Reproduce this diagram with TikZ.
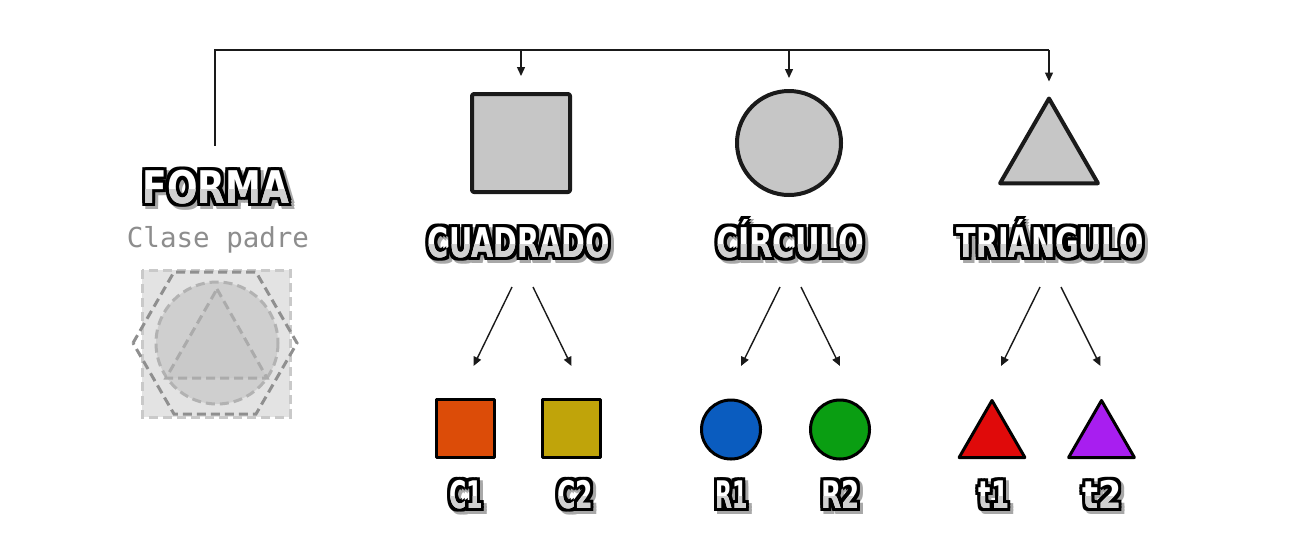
\documentclass[tikz,border=0pt]{standalone}
\usepackage{fontspec}
\usepackage{graphicx}
\usetikzlibrary{arrows.meta,shapes.geometric,calc}
\newfontfamily\pxfont{DejaVu Sans}
\newfontfamily\mymono{DejaVu Sans Mono}
\definecolor{shapegray}{HTML}{C6C6C6}
\definecolor{ink}{HTML}{1A1A1A}
\definecolor{pxshadow}{HTML}{A8A8A8}
\definecolor{pxlow}{HTML}{D0D0D0}
\definecolor{subgray}{HTML}{8D8D8D}
\definecolor{cOne}{HTML}{DC4C08}
\definecolor{cTwo}{HTML}{C0A40A}
\definecolor{rOne}{HTML}{0A5CBF}
\definecolor{rTwo}{HTML}{0A9E12}
\definecolor{tOne}{HTML}{E00A0A}
\definecolor{tTwo}{HTML}{A81EF0}
\tikzset{
  pxtxt/.style={inner sep=0pt, outer sep=0pt, anchor=base, font=\pxfont\bfseries},
  bigshape/.style={draw=ink, fill=shapegray, line width=4pt, line join=round, inner sep=0pt},
  kidshape/.style={draw=black, line width=3pt, line join=round, inner sep=0pt},
  conn/.style={draw=ink, line width=1.4pt},
  arr/.style={conn, -{Triangle[length=9pt,width=8pt]}},
  icondash/.style={line width=3pt, dash pattern=on 9pt off 5pt},
}
% #1 name, #2 position, #3 font size, #4 xscale, #5 text
\newcommand{\pxlabel}[5]{%
  \begin{scope}[xshift=3pt,yshift=-3pt]
    \foreach \dx/\dy in {-3pt/-3pt,-3pt/0pt,-3pt/3pt,0pt/-3pt,0pt/3pt,3pt/-3pt,3pt/0pt,3pt/3pt,0pt/0pt}{%
      \node[pxtxt, text=pxshadow, xshift=\dx, yshift=\dy] at (#2) {\fontsize{#3}{#3}\selectfont\scalebox{#4}[1]{#5}};}
  \end{scope}
  \foreach \dx/\dy in {-3pt/-3pt,-3pt/0pt,-3pt/3pt,0pt/-3pt,0pt/3pt,3pt/-3pt,3pt/0pt,3pt/3pt}{%
    \node[pxtxt, text=black, xshift=\dx, yshift=\dy] at (#2) {\fontsize{#3}{#3}\selectfont\scalebox{#4}[1]{#5}};}
  \node[pxtxt, text=white] (#1) at (#2) {\fontsize{#3}{#3}\selectfont\scalebox{#4}[1]{#5}};
  \begin{scope}
    \clip ([xshift=-3pt,yshift=-2pt]#1.base west) rectangle ([xshift=3pt,yshift=0.3*#3pt]#1.base east);
    \node[pxtxt, text=pxlow] at (#2) {\fontsize{#3}{#3}\selectfont\scalebox{#4}[1]{#5}};
  \end{scope}
}
\begin{document}
\begin{tikzpicture}[x=1pt,y=-1pt]
\useasboundingbox (0,0) rectangle (1289,547);
\fill[white] (0,0) rectangle (1289,547);

% parent icon (FORMA)
\filldraw[icondash, fill=black!11, draw=black!21] (142,270) rectangle (290,417);
\draw[icondash, draw=black!44] (133,343) -- (174,272) -- (256,272) -- (297,343) -- (256,414) -- (174,414) -- cycle;
\filldraw[icondash, fill=black!19, draw=black!30] (217,343) circle[radius=61];
\filldraw[icondash, fill=black!21, draw=black!33] (217,289) -- (267,378) -- (166,378) -- cycle;

% labels
\pxlabel{lforma}{216,203}{45}{0.8}{FORMA}
\node[anchor=base, inner sep=0pt, text=subgray, font=\mymono\fontsize{27.5}{30}\selectfont] (clase) at (218,247) {Clase padre};
\pxlabel{lcuad}{519,257}{41}{0.7}{CUADRADO}
\pxlabel{lcirc}{790,257}{41}{0.74}{CÍRCULO}
\pxlabel{ltri}{1050,257}{41}{0.7}{TRIÁNGULO}
\pxlabel{lc1}{466,508}{38}{0.62}{C1}
\pxlabel{lc2}{575,508}{38}{0.66}{C2}
\pxlabel{lr1}{732,508}{38}{0.58}{R1}
\pxlabel{lr2}{841,508}{38}{0.69}{R2}
\pxlabel{lt1}{994,508}{38}{0.68}{t1}
\pxlabel{lt2}{1102,508}{38}{0.88}{t2}

% main shapes
\node[bigshape, rectangle, rounded corners=2pt, minimum size=98pt] (sq) at (521,143) {};
\node[bigshape, circle, minimum size=104pt] (ci) at (789,143) {};
\node[bigshape, regular polygon, regular polygon sides=3, minimum size=113pt] (tr) at (1049,155) {};

% child shapes
\node[kidshape, rectangle, fill=cOne, minimum size=58pt] (c1) at (465.5,428) {};
\node[kidshape, rectangle, fill=cTwo, minimum size=58pt] (c2) at (571.5,428) {};
\node[kidshape, circle, fill=rOne, minimum size=59pt] (r1) at (731,429.5) {};
\node[kidshape, circle, fill=rTwo, minimum size=59pt] (r2) at (840,429.5) {};
\node[kidshape, regular polygon, regular polygon sides=3, fill=tOne, minimum size=76pt] (t1) at (992,438.5) {};
\node[kidshape, regular polygon, regular polygon sides=3, fill=tTwo, minimum size=76pt] (t2) at (1101.5,438.5) {};

% bus from parent
\coordinate (bus) at (215,50);
\draw[conn] ($(lforma.north)+(-1,-24)$) |- (tr.corner 1 |- bus);
\draw[arr] (sq.north |- bus) -- ($(sq.north)+(0,-16)$);
\draw[arr] (ci.north |- bus) -- ($(ci.north)+(0,-11)$);
\draw[arr] (tr.corner 1 |- bus) -- ($(tr.corner 1)+(0,-13)$);

% child arrows
\coordinate (ra) at (0,287);
\coordinate (rb) at (0,366);
\draw[arr] ($(sq.center |- ra)+(-9,0)$) -- ($(c1.center |- rb)+(8,0)$);
\draw[arr] ($(sq.center |- ra)+(12,0)$) -- (c2.center |- rb);
\draw[arr] ($(ci.center |- ra)+(-9,0)$) -- ($(r1.center |- rb)+(10,0)$);
\draw[arr] ($(ci.center |- ra)+(12,0)$) -- (r2.center |- rb);
\draw[arr] ($(tr.center |- ra)+(-9,0)$) -- ($(t1.center |- rb)+(9,0)$);
\draw[arr] ($(tr.center |- ra)+(12,0)$) -- ($(t2.center |- rb)+(-1,0)$);
\end{tikzpicture}
\end{document}
